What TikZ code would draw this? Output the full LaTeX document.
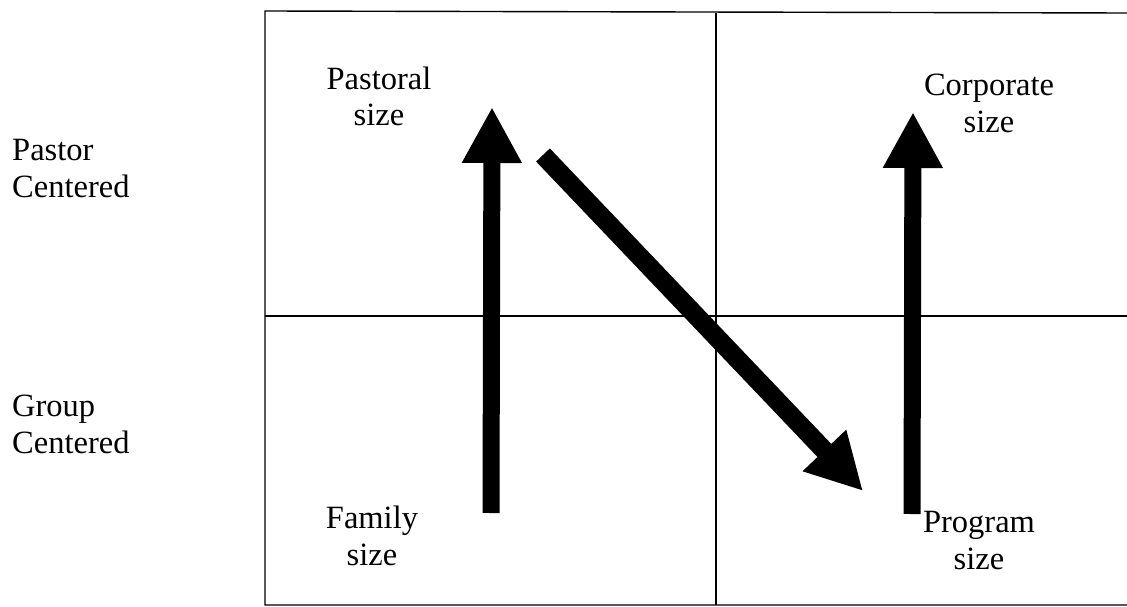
\documentclass[tikz,border=0pt]{standalone}
\usepackage{fontspec}
\setmainfont{Liberation Serif}
\usetikzlibrary{arrows.meta}
\begin{document}
\begin{tikzpicture}[x=1pt,y=-1pt,
  frame/.style={line width=1.4pt, black},
  label/.style={font=\fontsize{32.5}{36.5}\selectfont, inner sep=0pt, align=center, anchor=base},
  sidelabel/.style={font=\fontsize{32.5}{37}\selectfont, inner sep=0pt, align=left, anchor=base west},
  bigarrow/.style={line width=17pt, -{Triangle[width=56pt,length=56pt]}}
]
\useasboundingbox (0,0) rectangle (1127,607);
% frame
\draw[frame] (1127,13) -- (265,11) -- (265,605) -- (1127,605);
\draw[frame] (265,316) -- (1127,316);
\draw[frame] (716,13) -- (716,605);
% side labels
\node[sidelabel] (pc) at (12,197) {Pastor\\Centered};
\node[sidelabel] (gc) at (12,453) {Group\\Centered};
% quadrant labels
\node[label] (pastoral) at (379,126) {Pastoral\\size};
\node[label] (corporate) at (989,132) {Corporate\\size};
\node[label] (family) at (372,565) {Family\\size};
\node[label] (program) at (979,569) {Program\\size};
% arrow ends
\coordinate (fs) at (491,513);
\coordinate (ps) at (492,107);
\coordinate (pd) at (543,155);
\coordinate (prs) at (863,491);
\coordinate (pgs) at (912,514);
\coordinate (cs) at (913,112);
\draw[bigarrow] (fs) -- (ps);
\draw[bigarrow, line width=19pt] (pd) -- (prs);
\draw[bigarrow] (pgs) -- (cs);
\end{tikzpicture}
\end{document}
